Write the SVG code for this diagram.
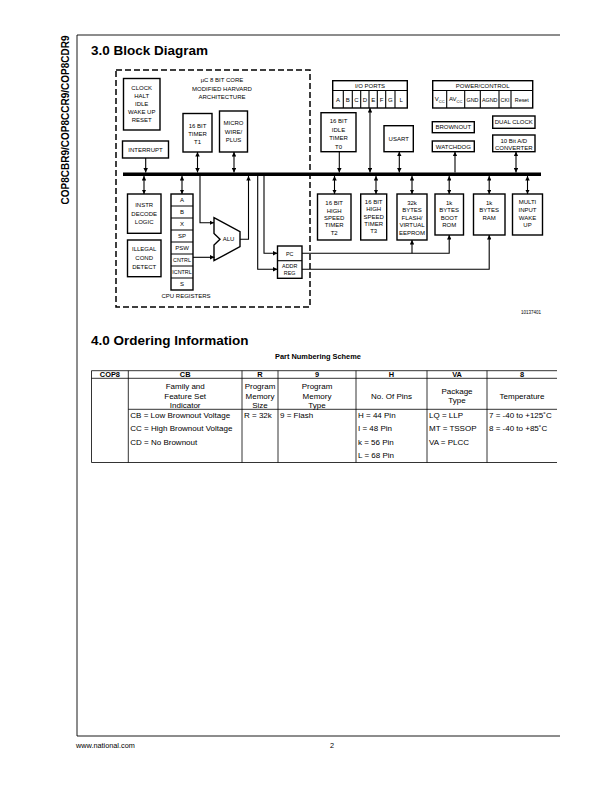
<svg xmlns="http://www.w3.org/2000/svg" width="612" height="792" viewBox="0 0 612 792">
<defs>
<style>
.t{font-family:"Liberation Sans",Arial,sans-serif;font-size:6px;text-anchor:middle;fill:#000}
.s{font-size:5.4px}
.b{fill:#fff;stroke:#000;stroke-width:1.4}
.c{fill:none;stroke:#000;stroke-width:1.1}
.f{fill:none;stroke:#000;stroke-width:0.9}
.h{font-family:"Liberation Sans",Arial,sans-serif;font-weight:bold;font-size:13.5px;fill:#000}
.tb{font-family:"Liberation Sans",Arial,sans-serif;font-size:8px;fill:#000}
.tc{text-anchor:middle}
.th{font-family:"Liberation Sans",Arial,sans-serif;font-size:7.4px;font-weight:bold;text-anchor:middle;fill:#000}
.tl{fill:none;stroke:#000;stroke-width:0.8}
</style>
<marker id="ah" viewBox="0 0 10 10" refX="10" refY="5" markerWidth="4.5" markerHeight="4.5" markerUnits="userSpaceOnUse" orient="auto-start-reverse"><path d="M0,0 L10,5 L0,10 z" fill="#000"/></marker>
</defs>
<rect width="612" height="792" fill="#fff"/>

<!-- page frame -->
<g id="frame" class="f">
<path d="M77,35 H560 M77,35 V736 H560"/>
</g>
<text x="69" y="120" transform="rotate(-90 69 120)" font-family="Liberation Sans,Arial,sans-serif" font-weight="bold" font-size="10" text-anchor="middle">COP8CBR9/COP8CCR9/COP8CDR9</text>

<text class="h" x="91" y="55">3.0 Block Diagram</text>

<!-- core dashed boundary -->
<g id="core">
<rect x="116" y="70" width="194" height="237" fill="none" stroke="#000" stroke-width="1.5" stroke-dasharray="6,3"/>
<text class="t" x="222" y="82">μC 8 BIT CORE</text>
<text class="t" x="222" y="90.5">MODIFIED HARVARD</text>
<text class="t" x="222" y="99">ARCHITECTURE</text>
</g>

<!-- bus -->
<g id="bus"><rect x="123" y="172.5" width="418" height="3.5" fill="#000"/></g>

<g id="clock">
<rect class="b" x="123.5" y="78.5" width="36.5" height="51.5"/>
<text class="t" x="141.7" y="90.2">CLOCK</text>
<text class="t" x="141.7" y="98.2">HALT</text>
<text class="t" x="141.7" y="106.2">IDLE</text>
<text class="t" x="141.7" y="114.2">WAKE UP</text>
<text class="t" x="141.7" y="122.2">RESET</text>
</g>
<g id="interrupt">
<rect class="b" x="122.5" y="141" width="46" height="17"/>
<text class="t" x="145.5" y="151.7">INTERRUPT</text>
</g>
<g id="timer1">
<rect class="b" x="183" y="113.5" width="29" height="38.5"/>
<text class="t" x="197.5" y="128.2">16 BIT</text>
<text class="t" x="197.5" y="136.2">TIMER</text>
<text class="t" x="197.5" y="144.2">T1</text>
</g>
<g id="microwire">
<rect class="b" x="219.5" y="111" width="28" height="41"/>
<text class="t" x="233.5" y="125.2">MICRO</text>
<text class="t" x="233.5" y="133.7">WIRE/</text>
<text class="t" x="233.5" y="142.2">PLUS</text>
</g>
<g id="instr">
<rect class="b" x="127.5" y="194" width="33.5" height="39.3"/>
<text class="t" x="144.2" y="207.2">INSTR</text>
<text class="t" x="144.2" y="215.9">DECODE</text>
<text class="t" x="144.2" y="224.2">LOGIC</text>
</g>
<g id="illegal">
<rect class="b" x="127.5" y="240" width="33.5" height="36.7"/>
<text class="t" x="144.2" y="250.9">ILLEGAL</text>
<text class="t" x="144.2" y="259.9">COND</text>
<text class="t" x="144.2" y="268.9">DETECT</text>
</g>
<g id="registers">
<rect class="b" x="171" y="194" width="22" height="96"/>
<path class="c" d="M171,206 H193 M171,218 H193 M171,230 H193 M171,242 H193 M171,254 H193 M171,266 H193 M171,278 H193"/>
<text class="t" x="182" y="202.2">A</text>
<text class="t" x="182" y="214.2">B</text>
<text class="t" x="182" y="226.2">X</text>
<text class="t" x="182" y="238.2">SP</text>
<text class="t" x="182" y="250.2">PSW</text>
<text class="t s" x="182" y="262.2">CNTRL</text>
<text class="t s" x="182" y="274.2">ICNTRL</text>
<text class="t" x="182" y="286.2">S</text>
<text class="t" x="186" y="298.3">CPU REGISTERS</text>
</g>
<g id="alu">
<polygon class="b" points="214,217.7 240,231.7 240,246.7 214,260.7 214,245 220,239.3 214,233.5"/>
<text class="t" x="228.5" y="241.4">ALU</text>
</g>
<g id="pcaddr">
<rect class="b" x="277.5" y="246" width="24.5" height="32.3"/>
<path class="c" d="M277.5,260.7 H302"/>
<text class="t s" x="289.7" y="255.5">PC</text>
<text class="t s" x="289.7" y="267.9">ADDR</text>
<text class="t s" x="289.7" y="275.2">REG</text>
</g>

<g id="ioports">
<rect class="b" x="332.7" y="80.7" width="74.6" height="27.3"/>
<path class="c" d="M332.7,90.5 H407.3 M343.3,90.5 V108 M352.3,90.5 V108 M360.7,90.5 V108 M369,90.5 V108 M377.3,90.5 V108 M385.7,90.5 V108 M395,90.5 V108"/>
<text class="t" x="370" y="87.8">I/O PORTS</text>
<text class="t" x="338" y="101.5">A</text>
<text class="t" x="347.8" y="101.5">B</text>
<text class="t" x="356.5" y="101.5">C</text>
<text class="t" x="364.8" y="101.5">D</text>
<text class="t" x="373.2" y="101.5">E</text>
<text class="t" x="381.5" y="101.5">F</text>
<text class="t" x="390.3" y="101.5">G</text>
<text class="t" x="401.2" y="101.5">L</text>
</g>
<g id="power">
<rect class="b" x="432.7" y="80.7" width="100" height="27.3"/>
<path class="c" d="M432.7,90.5 H532.7 M446.7,90.5 V108 M464.7,90.5 V108 M480.3,90.5 V108 M499,90.5 V108 M511,90.5 V108"/>
<text class="t" x="482.7" y="87.8">POWER/CONTROL</text>
<text class="t" x="439.7" y="101">V<tspan font-size="4" dy="1.5">CC</tspan></text>
<text class="t" x="455.7" y="101">AV<tspan font-size="4" dy="1.5">CC</tspan></text>
<text class="t s" x="472.5" y="101.5">GND</text>
<text class="t s" x="489.7" y="101.5">AGND</text>
<text class="t s" x="505" y="101.5">CKI</text>
<text class="t s" x="521.8" y="101.5">Reset</text>
</g>
<g id="timer0">
<rect class="b" x="321" y="112.7" width="35" height="39"/>
<text class="t" x="338.5" y="123.2">16 BIT</text>
<text class="t" x="338.5" y="131.7">IDLE</text>
<text class="t" x="338.5" y="140.2">TIMER</text>
<text class="t" x="338.5" y="148.7">T0</text>
</g>
<g id="usart">
<rect class="b" x="384" y="125.7" width="29.3" height="26"/>
<text class="t" x="398.7" y="141">USART</text>
</g>
<g id="brownout">
<rect class="b" x="432.3" y="121.7" width="42" height="11"/>
<text class="t" x="453.3" y="129.4">BROWNOUT</text>
</g>
<g id="watchdog">
<rect class="b" x="432.3" y="141" width="42" height="10.7"/>
<text class="t" x="453.3" y="148.6">WATCHDOG</text>
</g>
<g id="dualclock">
<rect class="b" x="492.7" y="116" width="42.3" height="12.3"/>
<text class="t" x="513.8" y="124.4">DUAL CLOCK</text>
</g>
<g id="adc">
<rect class="b" x="492.7" y="135" width="42.3" height="16.7"/>
<text class="t" x="513.8" y="143">10 Bit A/D</text>
<text class="t" x="513.8" y="149.6">CONVERTER</text>
</g>

<g id="timer2">
<rect class="b" x="317.5" y="194" width="33.5" height="46"/>
<text class="t" x="334.2" y="205.3">16 BIT</text>
<text class="t" x="334.2" y="212.6">HIGH</text>
<text class="t" x="334.2" y="219.9">SPEED</text>
<text class="t" x="334.2" y="227.2">TIMER</text>
<text class="t" x="334.2" y="234.5">T2</text>
</g>
<g id="timer3">
<rect class="b" x="360.7" y="194" width="26" height="46"/>
<text class="t" x="373.7" y="203.9">16 BIT</text>
<text class="t" x="373.7" y="211.2">HIGH</text>
<text class="t" x="373.7" y="218.5">SPEED</text>
<text class="t" x="373.7" y="225.8">TIMER</text>
<text class="t" x="373.7" y="233.1">T3</text>
</g>
<g id="flash">
<rect class="b" x="397" y="194" width="30" height="46"/>
<text class="t" x="412" y="204.9">32k</text>
<text class="t" x="412" y="212.2">BYTES</text>
<text class="t" x="412" y="219.7">FLASH/</text>
<text class="t" x="412" y="227.3">VIRTUAL</text>
<text class="t" x="412" y="235">EEPROM</text>
</g>
<g id="bootrom">
<rect class="b" x="435" y="194" width="28.5" height="41"/>
<text class="t" x="449.2" y="204.9">1k</text>
<text class="t" x="449.2" y="212.2">BYTES</text>
<text class="t" x="449.2" y="219.9">BOOT</text>
<text class="t" x="449.2" y="227.2">ROM</text>
</g>
<g id="ram">
<rect class="b" x="473.5" y="194" width="31.5" height="41"/>
<text class="t" x="489.2" y="204.9">1k</text>
<text class="t" x="489.2" y="212.2">BYTES</text>
<text class="t" x="489.2" y="219.9">RAM</text>
</g>
<g id="multi">
<rect class="b" x="512.5" y="194" width="30" height="41"/>
<text class="t" x="527.5" y="204.2">MULTI</text>
<text class="t" x="527.5" y="211.9">INPUT</text>
<text class="t" x="527.5" y="219.5">WAKE</text>
<text class="t" x="527.5" y="227.2">UP</text>
</g>

<g id="connectors">
<path class="c" d="M145.7,158 V172.5" marker-end="url(#ah)"/>
<path class="c" d="M197.5,152 V172.5" marker-start="url(#ah)" marker-end="url(#ah)"/>
<path class="c" d="M234,152 V172.5" marker-start="url(#ah)" marker-end="url(#ah)"/>
<path class="c" d="M339.3,151.7 V172.5" marker-end="url(#ah)"/>
<path class="c" d="M370,108 V172.5" marker-start="url(#ah)" marker-end="url(#ah)"/>
<path class="c" d="M399.3,151.7 V172.5" marker-start="url(#ah)" marker-end="url(#ah)"/>
<path class="c" d="M455,172.5 V151.7" marker-end="url(#ah)"/>
<path class="c" d="M516,151.7 V172.5" marker-start="url(#ah)" marker-end="url(#ah)"/>
<path class="c" d="M144,176 V194" marker-start="url(#ah)" marker-end="url(#ah)"/>
<path class="c" d="M182,176 V194" marker-start="url(#ah)" marker-end="url(#ah)"/>
<path class="c" d="M200,176 V222.7 H214" marker-end="url(#ah)"/>
<path class="c" d="M193,257.3 H214.5" marker-end="url(#ah)"/>
<path class="c" d="M240,239.3 H248.5 V176" marker-end="url(#ah)"/>
<path class="c" d="M264,176 V253.3 H277.5" marker-end="url(#ah)"/>
<path class="c" d="M257.7,176 V269.3 H277.5" marker-end="url(#ah)"/>
<path class="c" d="M302,253.3 H449.2 V235" marker-end="url(#ah)"/>
<path class="c" d="M412,253.3 V240" marker-end="url(#ah)"/>
<path class="c" d="M302,269.3 H489.2 V235" marker-end="url(#ah)"/>
<path class="c" d="M334.5,176 V194" marker-start="url(#ah)" marker-end="url(#ah)"/>
<path class="c" d="M376,176 V194" marker-start="url(#ah)" marker-end="url(#ah)"/>
<path class="c" d="M412,176 V194" marker-start="url(#ah)" marker-end="url(#ah)"/>
<path class="c" d="M449.2,176 V194" marker-start="url(#ah)" marker-end="url(#ah)"/>
<path class="c" d="M489.2,176 V194" marker-start="url(#ah)" marker-end="url(#ah)"/>
<path class="c" d="M527.5,176 V194" marker-start="url(#ah)" marker-end="url(#ah)"/>
</g>

<text x="541" y="314" font-family="Liberation Sans,Arial,sans-serif" font-size="4.5" text-anchor="end">10137401</text>

<text class="h" x="91" y="345">4.0 Ordering Information</text>

<g id="table">
<text class="th" x="318" y="358.5">Part Numbering Scheme</text>
<path class="tl" d="M91.5,370.7 H557 M91.5,378.3 H557 M128.3,409.3 H557 M91.5,462.5 H557 M91.5,370.7 V462.5 M128.3,370.7 V462.5 M242,370.7 V462.5 M278,370.7 V462.5 M356,370.7 V462.5 M427,370.7 V462.5 M487,370.7 V462.5"/>
<text class="th" x="109.9" y="377">COP8</text>
<text class="th" x="185.2" y="377">CB</text>
<text class="th" x="260" y="377">R</text>
<text class="th" x="317" y="377">9</text>
<text class="th" x="391.5" y="377">H</text>
<text class="th" x="457" y="377">VA</text>
<text class="th" x="522" y="377">8</text>
<text class="tb tc" x="185.2" y="388.9">Family and</text>
<text class="tb tc" x="185.2" y="398.6">Feature Set</text>
<text class="tb tc" x="185.2" y="407.9">Indicator</text>
<text class="tb tc" x="260" y="388.9">Program</text>
<text class="tb tc" x="260" y="398.6">Memory</text>
<text class="tb tc" x="260" y="407.9">Size</text>
<text class="tb tc" x="317" y="388.9">Program</text>
<text class="tb tc" x="317" y="398.6">Memory</text>
<text class="tb tc" x="317" y="407.9">Type</text>
<text class="tb tc" x="391.5" y="398.6">No. Of Pins</text>
<text class="tb tc" x="457" y="393.6">Package</text>
<text class="tb tc" x="457" y="403.2">Type</text>
<text class="tb tc" x="522" y="398.6">Temperature</text>
<text class="tb" x="130.3" y="417.5">CB = Low Brownout Voltage</text>
<text class="tb" x="130.3" y="431">CC = High Brownout Voltage</text>
<text class="tb" x="130.3" y="444.5">CD = No Brownout</text>
<text class="tb" x="244" y="417.5">R = 32k</text>
<text class="tb" x="280" y="417.5">9 = Flash</text>
<text class="tb" x="358" y="417.5">H = 44 Pin</text>
<text class="tb" x="358" y="431">I = 48 Pin</text>
<text class="tb" x="358" y="444.5">k = 56 Pin</text>
<text class="tb" x="358" y="458">L = 68 Pin</text>
<text class="tb" x="429" y="417.5">LQ = LLP</text>
<text class="tb" x="429" y="431">MT = TSSOP</text>
<text class="tb" x="429" y="444.5">VA = PLCC</text>
<text class="tb" x="489" y="417.5">7 = -40 to +125˚C</text>
<text class="tb" x="489" y="431">8 = -40 to +85˚C</text>
</g>

<text x="76" y="747.5" font-family="Liberation Sans,Arial,sans-serif" font-size="7.3">www.national.com</text>
<text x="332" y="747.5" font-family="Liberation Sans,Arial,sans-serif" font-size="7.3" text-anchor="middle">2</text>
</svg>
